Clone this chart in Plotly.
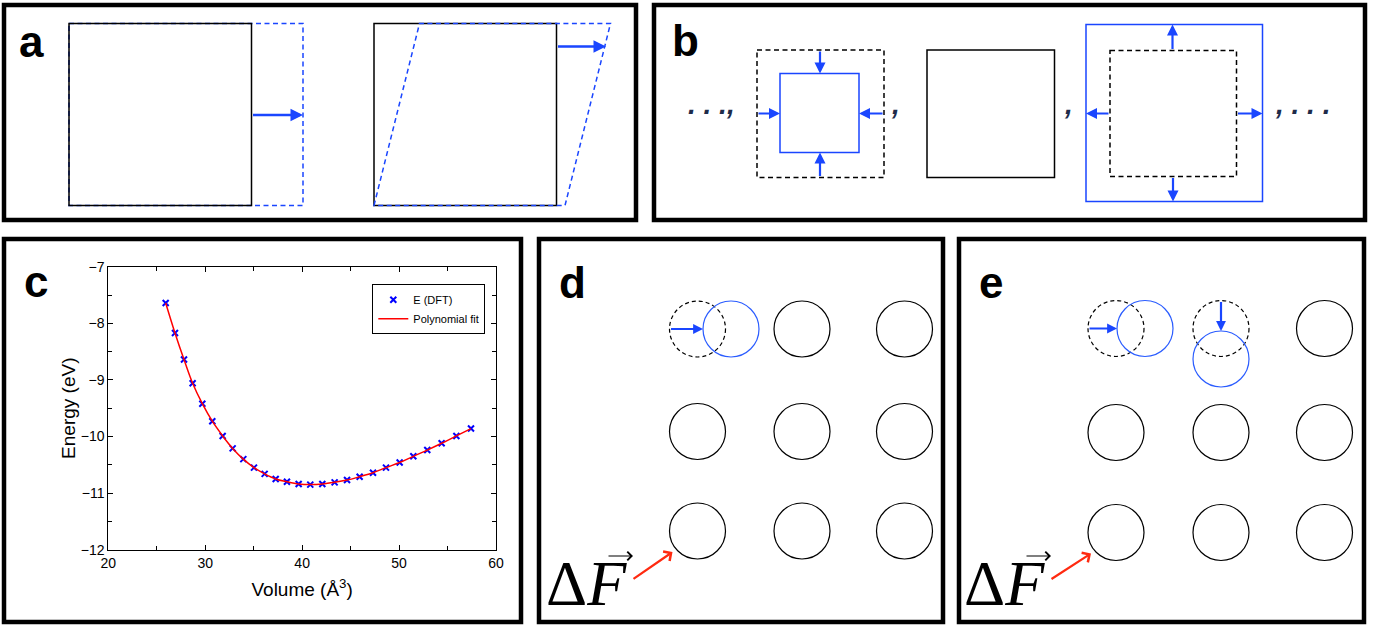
import plotly.graph_objects as go

W, H = 1373, 625

# ---------------- Panel c data ----------------
volume = [25.92, 26.88, 27.81, 28.70, 29.70, 30.73, 31.80, 32.83, 33.93, 35.03,
          36.13, 37.27, 38.43, 39.64, 40.84, 42.08, 43.35, 44.63, 45.93, 47.31,
          48.65, 50.06, 51.47, 52.91, 54.39, 55.91, 57.42]
energy_dft = [-7.64, -8.17, -8.64, -9.06, -9.42, -9.73, -9.99, -10.21, -10.40, -10.55,
              -10.66, -10.75, -10.80, -10.84, -10.85, -10.84, -10.81, -10.77, -10.71, -10.64,
              -10.55, -10.46, -10.35, -10.24, -10.12, -9.99, -9.86]
x_ticks = [20, 30, 40, 50, 60]
y_ticks = [-12, -11, -10, -9, -8, -7]

# ---------------- Diagram geometry (pixel space) ----------------
panel_boxes = [(4, 5, 636, 220), (654, 5, 1365, 220), (4, 239, 521, 622),
               (539, 239, 943, 622), (959, 239, 1364, 622)]
panel_letters = ["a", "b", "c", "d", "e"]
letter_pos = [(17, 41), (670, 40), (22, 281), (557, 282), (977, 282)]

# panel a
a_square1 = (69, 23.5, 251.5, 205.5)
a_stretch = (69, 23.5, 303, 205.5)
a_square2 = (374, 23.5, 556.5, 205.5)
a_shear = [(374, 205.5), (419.5, 23.5), (610.5, 23.5), (565, 205.5)]
a_arrows = [((251.5, 115), (303, 115)), ((556.5, 46.5), (606, 46.5))]

# panel b
b_small_dash = (757, 50, 884, 177.5)
b_small_blue = (780, 73.5, 859, 152.5)
b_mid_square = (927, 50, 1054.5, 177.5)
b_big_blue = (1086, 24.5, 1262.5, 201.5)
b_big_dash = (1110, 50.5, 1236.5, 176.5)
b_arrows_in = [((820, 50), (820, 73.5)), ((820, 177.5), (820, 152.5)),
               ((757, 113.5), (780, 113.5)), ((884, 113.5), (859, 113.5))]
b_arrows_out = [((1172.5, 50.5), (1172.5, 24.5)), ((1173, 176.5), (1173, 201.5)),
                ((1110, 113.5), (1086, 113.5)), ((1236.5, 113.5), (1262.5, 113.5))]
b_texts = [(". . .,", 711), (",", 895), (",", 1068), (", . . .", 1302)]

# panels d, e lattices
R = 28
d_cols = [697.5, 802, 904.5]
d_rows = [329, 431.5, 531]
e_cols = [1116, 1221, 1324.5]
e_rows = [328.5, 432.5, 532.5]

BLUE = "#1a46ff"
CBLUE = "#2a5cff"
RED = "#ff2a10"
NAVY = "#1e2b4a"
FONT = "Liberation Sans, Arial, Helvetica, sans-serif"

shapes = []
annotations = []


def rect(box, color="black", width=1.5, dash=None):
    x0, y0, x1, y1 = box
    line = dict(color=color, width=width)
    if dash:
        line["dash"] = dash
    shapes.append(dict(type="rect", xref="x", yref="y", x0=x0, y0=y0, x1=x1, y1=y1,
                       line=line, fillcolor="rgba(0,0,0,0)", layer="above"))


def circle(cx, cy, color="black", width=1.2, dash=None):
    line = dict(color=color, width=width)
    if dash:
        line["dash"] = dash
    shapes.append(dict(type="circle", xref="x", yref="y", x0=cx - R, x1=cx + R,
                       y0=cy - R, y1=cy + R, line=line, fillcolor="rgba(0,0,0,0)",
                       layer="above"))


def arrow(p0, p1, color=BLUE, width=2.2, head=2, size=1.0):
    annotations.append(dict(x=p1[0], y=p1[1], ax=p0[0], ay=p0[1], xref="x", yref="y",
                            axref="x", ayref="y", text="", showarrow=True,
                            arrowhead=head, arrowsize=size, arrowwidth=width,
                            arrowcolor=color, standoff=0, startstandoff=0))


def label(txt, x, y, size, family=FONT, color="black", xanchor="left"):
    annotations.append(dict(x=x, y=y, xref="x", yref="y", text=txt, showarrow=False,
                            xanchor=xanchor, yanchor="middle",
                            font=dict(size=size, family=family, color=color)))


# panel frames
for box in panel_boxes:
    rect(box, color="black", width=4.5)
for ch, (lx, ly) in zip(panel_letters, letter_pos):
    label("<b>%s</b>" % ch, lx, ly, 44)

# panel a
rect(a_stretch, color=BLUE, width=1.5, dash="5px,3.5px")
rect(a_square1, color="black", width=1.5)
rect(a_square2, color="black", width=1.5)
path = "M " + " L ".join("%g %g" % p for p in a_shear) + " Z"
shapes.append(dict(type="path", xref="x", yref="y", path=path,
                   line=dict(color=BLUE, width=1.5, dash="5px,3.5px"), layer="above"))
for p0, p1 in a_arrows:
    arrow(p0, p1, width=2.5)

# panel b
rect(b_small_dash, color="black", width=1.5, dash="5px,3.5px")
rect(b_small_blue, color=BLUE, width=1.5)
rect(b_mid_square, color="black", width=1.5)
rect(b_big_blue, color=BLUE, width=1.5)
rect(b_big_dash, color="black", width=1.5, dash="5px,3.5px")
for p0, p1 in b_arrows_in + b_arrows_out:
    arrow(p0, p1, width=2.2)
for txt, tx in b_texts:
    label("<b><i>%s</i></b>" % txt, tx, 104, 28, color=NAVY, xanchor="center")

# panel d
for j, cy in enumerate(d_rows):
    for i, cx in enumerate(d_cols):
        if i == 0 and j == 0:
            circle(cx, cy, dash="4px,3px")
            circle(cx + 33.5, cy, color=CBLUE)
        else:
            circle(cx, cy)
arrow((d_cols[0] - R, d_rows[0]), (d_cols[0] + 5.5, d_rows[0]), width=2.2, size=0.9)

# panel e
for j, cy in enumerate(e_rows):
    for i, cx in enumerate(e_cols):
        if j == 0 and i == 0:
            circle(cx, cy, dash="4px,3px")
            circle(cx + 29, cy, color=CBLUE)
        elif j == 0 and i == 1:
            circle(cx, cy, dash="4px,3px")
            circle(cx, cy + 30.5, color=CBLUE)
        else:
            circle(cx, cy)
arrow((e_cols[0] - R, e_rows[0]), (e_cols[0] + 1, e_rows[0]), width=2.2, size=0.9)
arrow((e_cols[1], e_rows[0] - R), (e_cols[1], e_rows[0] + 2.5), width=2.2, size=0.9)

# Delta F labels and red force arrows
for x0, cx, cy in [(544, d_cols[0], d_rows[2]), (962, e_cols[0], e_rows[2])]:
    label("Δ<i>F</i>", x0, 583, 64, family="Liberation Serif, Times New Roman, serif")
    arrow((x0 + 63, 556), (x0 + 89, 556), color="black", width=1.2, head=4, size=1.4)
    arrow((x0 + 88, 580), (cx - 25, cy + 21), color=RED, width=2.2, head=4, size=1.0)

# ---------------- Figure ----------------
fig = go.Figure()
fig.add_trace(go.Scatter(x=[0, W], y=[0, H], mode="markers", marker=dict(opacity=0),
                         showlegend=False, hoverinfo="skip", xaxis="x", yaxis="y"))
fig.add_trace(go.Scatter(x=volume, y=energy_dft, mode="markers", name="E (DFT)",
                         marker=dict(symbol="x-thin", size=6, color="#0000ff",
                                     line=dict(color="#0000ff", width=2)),
                         xaxis="x2", yaxis="y2"))
fig.add_trace(go.Scatter(x=volume, y=energy_dft, mode="lines", name="Polynomial fit",
                         line=dict(color="#ff0000", width=1.5, shape="spline"),
                         xaxis="x2", yaxis="y2"))

axis_common = dict(showline=True, linecolor="black", linewidth=1, mirror="allticks",
                   ticks="inside", ticklen=5, tickwidth=1, tickcolor="black",
                   showgrid=False, zeroline=False, automargin=False,
                   tickfont=dict(size=14, family=FONT, color="black"))

fig.update_layout(
    width=W, height=H, margin=dict(l=0, r=0, t=0, b=0, pad=0, autoexpand=False),
    paper_bgcolor="white", plot_bgcolor="white",
    font=dict(family=FONT, color="black"),
    xaxis=dict(domain=[0, 1], range=[0, W], visible=False, fixedrange=True,
               automargin=False),
    yaxis=dict(domain=[0, 1], range=[H, 0], visible=False, fixedrange=True,
               automargin=False),
    xaxis2=dict(domain=[108.3 / W, 496 / W], anchor="y2", range=[20, 60],
                tickvals=x_ticks, minor=dict(ticks="inside", dtick=5, tick0=20, ticklen=4,
                                             tickcolor="black"),
                title=dict(text="Volume (Å<sup>3</sup>)", font=dict(size=19, family=FONT),
                           standoff=13),
                **axis_common),
    yaxis2=dict(domain=[1 - 549.7 / H, 1 - 266.7 / H], anchor="x2", range=[-12, -7],
                tickvals=y_ticks, minor=dict(ticks="inside", dtick=0.5, tick0=-12, ticklen=4,
                                             tickcolor="black"),
                title=dict(text="Energy (eV)", font=dict(size=19, family=FONT), standoff=0),
                **axis_common),
    legend=dict(x=372.3 / W, y=1 - 284.3 / H, xanchor="left", yanchor="top",
                bordercolor="black", borderwidth=1, bgcolor="white",
                font=dict(size=11, family=FONT), itemwidth=30, tracegroupgap=0),
    shapes=shapes, annotations=annotations,
)

fig.write_html("out.html", config={"displayModeBar": False},
               post_script="document.body.style.margin='0px';")
